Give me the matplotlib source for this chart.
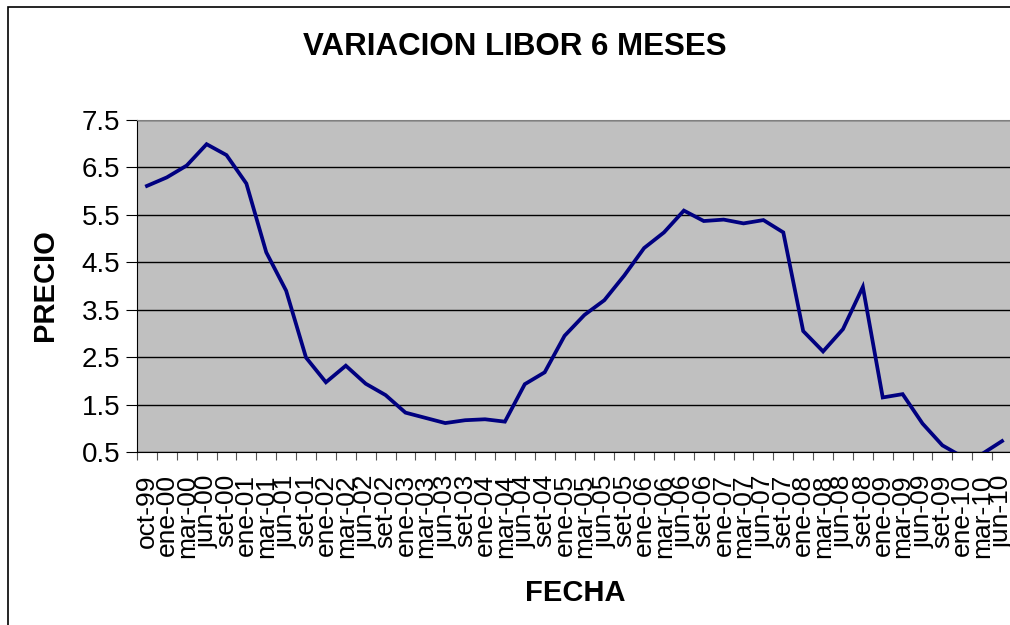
import matplotlib
matplotlib.use("Agg")
import matplotlib.pyplot as plt
from matplotlib.patches import Rectangle
import numpy as np

plt.rcParams["font.family"] = ["Liberation Sans", "DejaVu Sans"]

# fecha labels (quarterly-ish)
fechas = [
    "oct-99",
    "ene-00", "mar-00", "jun-00", "set-00",
    "ene-01", "mar-01", "jun-01", "set-01",
    "ene-02", "mar-02", "jun-02", "set-02",
    "ene-03", "mar-03", "jun-03", "set-03",
    "ene-04", "mar-04", "jun-04", "set-04",
    "ene-05", "mar-05", "jun-05", "set-05",
    "ene-06", "mar-06", "jun-06", "set-06",
    "ene-07", "mar-07", "jun-07", "set-07",
    "ene-08", "mar-08", "jun-08", "set-08",
    "ene-09", "mar-09", "jun-09", "set-09",
    "ene-10", "mar-10", "jun-10",
]

# libor 6m
precio = [
    6.11,
    6.29, 6.54, 6.99, 6.76,
    6.16, 4.71, 3.90, 2.49,
    1.97, 2.32, 1.94, 1.70,
    1.33, 1.22, 1.11, 1.17,
    1.19, 1.14, 1.93, 2.18,
    2.95, 3.39, 3.70, 4.22,
    4.80, 5.13, 5.59, 5.37,
    5.40, 5.32, 5.39, 5.13,
    3.05, 2.62, 3.09, 3.98,
    1.65, 1.72, 1.10, 0.64,
    0.40, 0.46, 0.73,
]

y_ticks = [0.5, 1.5, 2.5, 3.5, 4.5, 5.5, 6.5, 7.5]

W, H = 1010, 625
fig = plt.figure(figsize=(W / 100, H / 100), dpi=100)
ax = fig.add_axes([137 / W, 1 - 452 / H, (1012 - 137) / W, (452 - 120) / H])

# outer chart border (cropped on right and bottom)
fig.patches.append(Rectangle((8 / W, -0.1), 1.2, 1 - 7 / H + 0.1, transform=fig.transFigure,
                             fill=False, edgecolor="black", lw=1.2))

x = np.arange(len(precio)) + 0.5
ax.set_facecolor("#c0c0c0")
for v in y_ticks:
    ax.axhline(v, color="black", lw=1.0, zorder=1)
ax.plot(x, precio, color="#000080", lw=2.7, zorder=3, solid_joinstyle="miter")

ax.set_xlim(0, len(precio))
ax.set_ylim(0.5, 7.5)
ax.set_yticks(y_ticks)
ax.set_yticklabels([f"{v:.1f}" for v in y_ticks], fontsize=20)
ax.set_xticks(np.arange(len(precio) + 1))
ax.set_xticklabels([])
ax.set_xticks(x, minor=True)
ax.set_xticklabels(fechas, minor=True, rotation=90, fontsize=19, va="top", ha="center")
ax.tick_params(axis="x", which="minor", length=0, pad=16)
ax.tick_params(axis="x", which="major", length=6, direction="out", color="#555555")
ax.tick_params(axis="y", length=8, direction="out", pad=4)

ax.spines["right"].set_visible(False)
ax.spines["top"].set_color("#808080")
ax.spines["left"].set_color("black")
ax.spines["bottom"].set_color("black")

fig.text(515 / W, 1 - 47 / H, "VARIACION LIBOR 6 MESES", ha="center", va="center",
         fontsize=22.5, fontweight="bold")
fig.text(45 / W, 1 - 285 / H, "PRECIO", ha="center", va="center", rotation=90,
         fontsize=21, fontweight="bold")
fig.text(575 / W, 1 - 593 / H, "FECHA", ha="center", va="center",
         fontsize=21, fontweight="bold")

fig.savefig("out.png", dpi=100)
